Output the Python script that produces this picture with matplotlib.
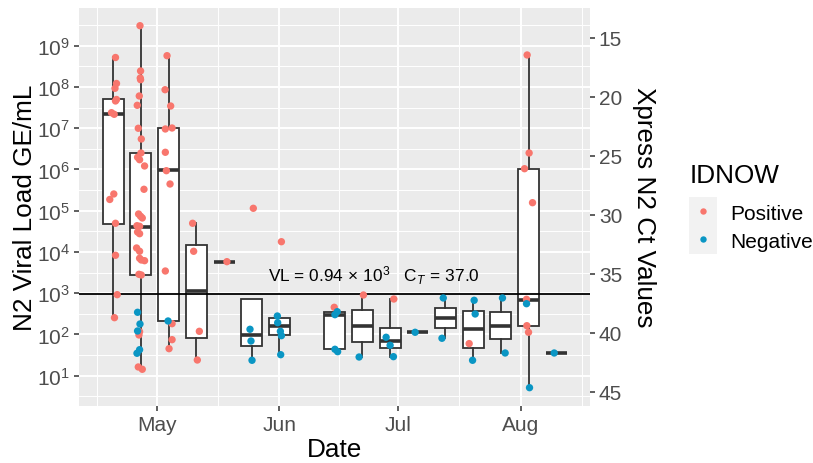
import numpy as np
import matplotlib
matplotlib.use('Agg')
import matplotlib.pyplot as plt
import matplotlib.dates as mdates
from matplotlib.patches import Rectangle
from matplotlib.lines import Line2D
from matplotlib.ticker import (LogLocator, LogFormatterSciNotation, FixedLocator, NullFormatter,
                               FormatStrFormatter, NullLocator)

plt.rcParams['font.family'] = ['Liberation Sans', 'DejaVu Sans']
plt.rcParams['mathtext.fontset'] = 'custom'
plt.rcParams['mathtext.rm'] = 'Liberation Sans'
plt.rcParams['mathtext.it'] = 'Liberation Sans:italic'
plt.rcParams['mathtext.bf'] = 'Liberation Sans:bold'

# ---------------- data ----------------
week_dates = ['2020-04-20', '2020-04-27', '2020-05-04', '2020-05-11', '2020-05-18',
              '2020-05-25', '2020-06-01', '2020-06-15', '2020-06-22', '2020-06-29',
              '2020-07-06', '2020-07-13', '2020-07-20', '2020-07-27', '2020-08-03',
              '2020-08-10']
# box statistics, log10(VL)
box_lo_log  = [2.41, 1.155, 1.65, 1.38, 3.76, 1.37, 1.51, 1.58, 1.46, 1.46, 2.05, 1.91, 1.37, 1.55, 0.71, 1.55]
box_q1_log  = [4.685, 3.44, 2.32, 1.91, 3.76, 1.73, 1.98, 1.64, 1.82, 1.665, 2.05, 2.15, 1.67, 1.88, 2.21, 1.55]
box_med_log = [7.337, 4.60, 5.98, 3.05, 3.76, 1.98, 2.205, 2.48, 2.205, 1.835, 2.05, 2.40, 2.12, 2.215, 2.84, 1.55]
box_q3_log  = [7.708, 6.39, 7.00, 4.17, 3.76, 2.86, 2.41, 2.54, 2.585, 2.16, 2.05, 2.64, 2.58, 2.55, 6.01, 1.55]
box_hi_log  = [8.72, 9.485, 8.76, 4.69, 3.76, 2.86, 2.45, 2.66, 2.96, 2.86, 2.05, 2.88, 2.83, 2.88, 8.775, 1.55]

idnow_levels = ['Positive', 'Negative']
idnow_colors = ['#F8766D', '#0A96C4']

# individual samples: week index, jitter (days), log10(VL), IDNOW level (0=Positive, 1=Negative)
pt_week = ([0]*13 + [1]*36 + [2]*13 + [3]*4 + [4] + [5]*4 + [6]*6 + [7]*5 + [8]*2 + [9]*4
           + [10] + [11]*2 + [12]*4 + [13]*2 + [14]*9 + [15])
pt_jitter_days = [
    0.56, 0.81, 0.43, 0.81, 0.56, -0.46, 0.23, 0.13, -0.89, 0.56, 0.56, 0.99, 0.30,
    -0.25, -0.10, -0.18, -0.10, -0.43, -0.94, -0.68, 0.08, 0.0, -0.86, -0.35, 0.91, 0.76,
    -0.61, -0.10, 0.33, -1.01, -0.35, -0.86, -0.35, -1.11, -0.35, -0.35, 0.08, 0.91, -0.51,
    0.08, -0.35, -0.51, -0.68, 0.33, -0.86, -0.25, -0.86, -0.35, -1.01,
    -0.41, -0.91, 0.51, -0.84, 0.86, -0.84, -0.58, 0.35, -0.84, 0.86, 0.86, 0.10, -0.15,
    -0.94, -0.68, 0.76, 0.25,
    0.73,
    0.41, -0.43, -0.18, 0.08,
    0.51, -0.51, -0.43, 0.25, 0.51, 0.33,
    -0.13, 0.63, 0.05, 0.05, 0.73,
    0.25, -0.84,
    0.94, -1.01, 0.0, 0.84,
    -0.68,
    -0.56, -0.89,
    0.25, 0.51, -1.01, -0.15,
    0.41, 1.09,
    -0.35, 0.15, -1.01, 1.01, -0.51, -0.51, -0.43, 0.0, 0.25,
    -0.51]
pt_log10_vl = [
    8.714, 8.084, 7.967, 7.696, 7.66, 7.376, 7.337, 5.405, 5.272, 4.695, 3.919, 2.964, 2.406,
    9.485, 8.387, 8.217, 8.176, 7.781, 7.555, 6.998, 6.738, 6.399, 6.295, 6.236, 6.084, 5.519,
    4.92, 4.864, 4.823, 4.636, 4.622, 4.484, 4.442, 4.096, 4.016, 3.846, 3.805, 3.788, 3.458,
    3.441, 2.067, 1.987, 1.211, 1.155, 2.537, 2.253, 2.084, 1.63, 1.543,
    8.758, 7.933, 7.538, 6.981, 7.005, 6.416, 5.97, 5.647, 3.538, 2.261, 1.873, 1.655, 2.326,
    4.695, 4.016, 2.076, 1.38,
    3.764,
    5.058, 2.125, 1.841, 1.373,
    4.248, 2.447, 2.285, 2.076, 1.97, 1.509,
    2.658, 2.551, 2.479, 1.64, 1.582,
    2.956, 1.453,
    2.859, 1.931, 1.737, 1.461,
    2.052,
    2.884, 1.907,
    2.828, 2.496, 1.778, 1.373,
    2.884, 1.55,
    8.775, 6.399, 6.018, 5.194, 2.852, 2.745, 2.212, 2.052, 0.709,
    1.55]
pt_idnow = (
    [0]*13 +
    [0]*31 + [1]*5 +
    [0]*12 + [1] +
    [0]*4 +
    [0] +
    [0, 1, 1, 1] +
    [0, 1, 1, 1, 1, 1] +
    [0, 1, 1, 1, 1] +
    [0, 1] +
    [0, 1, 1, 1] +
    [1] +
    [1, 1] +
    [1, 1, 0, 1] +
    [1, 1] +
    [0, 0, 0, 0, 0, 1, 0, 0, 1] +
    [1])

threshold_vl = 0.94e3
threshold_label = r'VL = 0.94$\,\times\,$10$^{3}$   C$_{T}$$\,=\,$37.0'
x_label = 'Date'
y_label = 'N2 Viral Load GE/mL'
y2_label = 'Xpress N2 Ct Values'
ct_ticks = [15, 20, 25, 30, 35, 40, 45]

TICK_FS = 15.0
TITLE_FS = 18.8

# ---------------- figure ----------------
W, H = 813, 464
fig = plt.figure(figsize=(W/100, H/100), dpi=100)
L, R, T, B = 79, 590, 9, 407
ax = fig.add_axes([L/W, 1-B/H, (R-L)/W, (B-T)/H])
ax.set_facecolor('#EBEBEB')
for s in ax.spines.values():
    s.set_visible(False)

pos = mdates.date2num(np.array(week_dates, dtype='datetime64[D]'))
stats = []
for i in range(len(week_dates)):
    stats.append(dict(med=10**box_med_log[i], q1=10**box_q1_log[i], q3=10**box_q3_log[i],
                      whislo=10**box_lo_log[i], whishi=10**box_hi_log[i], fliers=[]))

ax.set_yscale('log')
ax.bxp(stats, positions=pos, widths=5.3, showfliers=False, showcaps=False,
       patch_artist=True, manage_ticks=False, zorder=2,
       boxprops=dict(facecolor='white', edgecolor='#333333', linewidth=1.3),
       whiskerprops=dict(color='#333333', linewidth=1.3),
       medianprops=dict(color='#333333', linewidth=2.6, solid_capstyle='butt'))

ax.axhline(threshold_vl, color='black', lw=1.3, zorder=3)

px = pos[np.array(pt_week)] + np.array(pt_jitter_days)
py = 10**np.array(pt_log10_vl)
cols = [idnow_colors[c] for c in pt_idnow]
ax.scatter(px, py, s=28, c=cols, linewidths=0, zorder=4)

ax.text(mdates.date2num(np.datetime64('2020-06-25')), 10**3.303, threshold_label,
        ha='center', va='baseline', fontsize=12.4, color='black', zorder=5)

# axes limits
d0 = mdates.date2num(np.datetime64('2020-05-01'))
ax.set_xlim(d0 - (156.7-79)/3.95, d0 + 92 + (590-520.7)/3.95)
ax.set_ylim(10**0.265, 10**9.914)

# x ticks
majors = mdates.date2num(np.array(['2020-04-01', '2020-05-01', '2020-06-01', '2020-07-01',
                                   '2020-08-01', '2020-09-01'], dtype='datetime64[D]'))
ax.xaxis.set_major_locator(FixedLocator(majors[1:5]))
ax.xaxis.set_major_formatter(mdates.DateFormatter('%b'))
ax.xaxis.set_minor_locator(FixedLocator((majors[:-1] + majors[1:]) / 2))
# y ticks
ax.yaxis.set_major_locator(LogLocator(base=10, numticks=20))
ax.yaxis.set_major_formatter(LogFormatterSciNotation())
ax.yaxis.set_minor_locator(FixedLocator([10**(k+0.5) for k in range(-1, 11)]))
ax.yaxis.set_minor_formatter(NullFormatter())

ax.grid(which='major', color='white', lw=1.4)
ax.grid(which='minor', color='white', lw=0.7)
ax.set_axisbelow(True)
ax.tick_params(which='major', length=3.8, width=1.1, color='#333333',
               labelcolor='#4D4D4D', labelsize=TICK_FS, pad=2.5)
ax.tick_params(which='minor', length=0)

# secondary axis (Ct)
def vl2ct(v):
    v = np.clip(np.asarray(v, dtype=float), 1e-12, None)
    return 47.15 - 3.496*np.log10(v)

def ct2vl(c):
    return 10**((47.15 - np.asarray(c, dtype=float))/3.496)

sec = ax.secondary_yaxis('right', functions=(vl2ct, ct2vl))
sec.yaxis.set_major_locator(FixedLocator(ct_ticks))
sec.yaxis.set_major_formatter(FormatStrFormatter('%d'))
sec.yaxis.set_minor_locator(NullLocator())
sec.yaxis.set_minor_formatter(NullFormatter())
for s in sec.spines.values():
    s.set_visible(False)
sec.tick_params(which='major', length=3.8, width=1.1, color='#333333', labelcolor='#4D4D4D',
                labelsize=TICK_FS, pad=2.5)

# axis titles
ax.set_xlabel(x_label, fontsize=TITLE_FS, color='black')
ax.xaxis.set_label_coords(0.5, -(438-407)/(B-T))
ax.set_ylabel(y_label, fontsize=TITLE_FS, color='black')
ax.yaxis.set_label_coords(-(79-37)/(R-L), 0.5)
fig.text(632/W, 1-207/H, y2_label, rotation=-90, ha='left', va='center',
         fontsize=TITLE_FS, color='black')

# legend
fig.text(690/W, 1-182.7/H, 'IDNOW', fontsize=TITLE_FS, va='baseline', ha='left')
fig.patches.append(Rectangle((689/W, 1-255/H), 28.3/W, 57.3/H, transform=fig.transFigure,
                             facecolor='#F2F2F2', edgecolor='none'))
for i, (lab, yy, ybase) in enumerate(zip(idnow_levels, [212.3, 240.0], [220.0, 248.3])):
    fig.add_artist(Line2D([703/W], [1-yy/H], marker='o', markersize=4.6, linestyle='none',
                          markerfacecolor=idnow_colors[i], markeredgewidth=0,
                          transform=fig.transFigure))
    fig.text(730.7/W, 1-ybase/H, lab, fontsize=TICK_FS, va='baseline', ha='left')

fig.savefig('out.png', dpi=100)
